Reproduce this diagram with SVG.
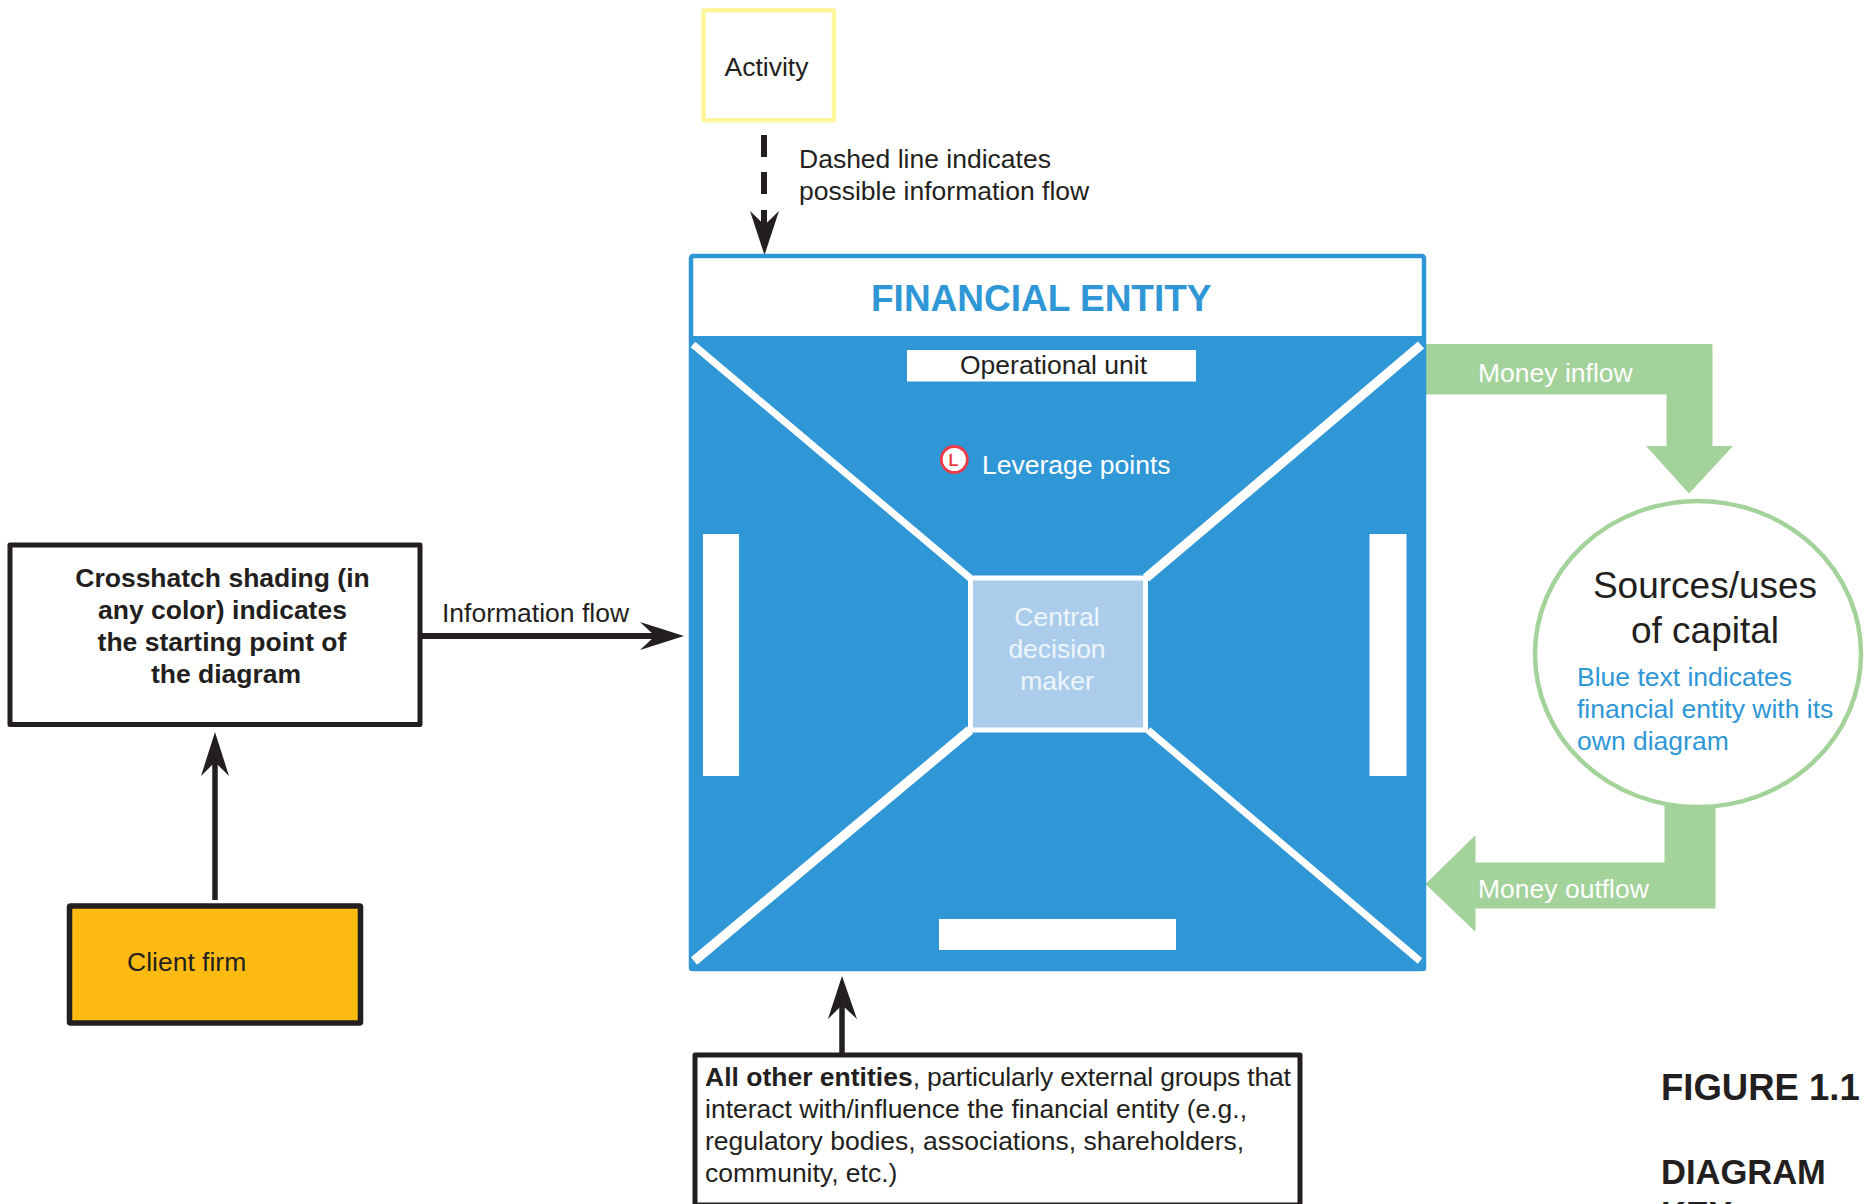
<svg xmlns="http://www.w3.org/2000/svg" width="1869" height="1204" viewBox="0 0 1869 1204">
<style>
text{font-family:"Liberation Sans",Arial,sans-serif;font-size:26.5px;fill:#231F20}
.b{font-weight:700}
.w{fill:#fff}
.pale{fill:#EEF5FB}
.blue{fill:#3097D6}
.box{fill:#fff;stroke:#231F20;stroke-width:5;stroke-linejoin:round}
.ln{stroke:#231F20;fill:none}
.ar{fill:#231F20}
.dg{stroke:#fff;fill:none}
.gr{fill:#A3D29B;stroke:#A3D29B;stroke-width:1;stroke-linejoin:round}
</style>
<rect width="1869" height="1204" fill="#fff"/>
<g id="connectors">
<path class="ln" stroke-width="6" d="M764 135V157M764 172V194M764 210V232"/>
<path class="ar" d="M764.5 255L750 211L764.5 225L779 211Z"/>
<path class="ln" stroke-width="6" d="M422 636H660"/>
<path class="ar" d="M684 636L640 622L655 636L640 650Z"/>
<path class="ln" stroke-width="5.500" d="M215 900V755"/>
<path class="ar" d="M215 732L201 776L215 762L229 776Z"/>
<path class="ln" stroke-width="5.500" d="M842 1053V1000"/>
<path class="ar" d="M842 976L828 1019L842 1005L857 1019Z"/>
<polygon id="money-inflow-arrow" class="gr" points="1426,344.500 1712,344.500 1712,446.500 1732,446.500 1689,493 1647,446.500 1667,446.500 1667,394 1426,394"/>
<polygon id="money-outflow-arrow" class="gr" points="1665,800 1715,800 1715,908 1475,908 1475,931 1426,884 1475,836 1475,863 1665,863"/>
</g>
<g id="activity">
<rect x="703.500" y="10.300" width="130.500" height="110" rx="1.500" fill="#fff" stroke="#FFF69B" stroke-width="4.500"/>
<text x="724.500" y="76">Activity</text>
</g>
<text x="799" y="168">Dashed line indicates</text>
<text x="799" y="200">possible information flow</text>
<g id="financial-entity">
<rect x="691" y="256" width="733" height="713" rx="2" fill="#fff" stroke="#3097D6" stroke-width="4.500"/>
<rect x="689" y="336" width="737" height="635" rx="2" fill="#3097D6"/>
<text class="b blue" x="871" y="311" style="font-size:37px">FINANCIAL ENTITY</text>
<path class="dg" stroke-width="7" d="M693 344.500L970 578M1148 730L1420 961"/>
<path class="dg" stroke-width="9.500" d="M1421 345L1146 578M970 730L694 961"/>
<rect x="907" y="350" width="289" height="31.500" fill="#fff"/>
<text x="960" y="374">Operational unit</text>
<rect x="703" y="534" width="36" height="242" fill="#fff"/>
<rect x="1369.500" y="534" width="37" height="242" fill="#fff"/>
<rect x="939" y="919" width="237" height="31" fill="#fff"/>
<g id="leverage">
<circle cx="954.300" cy="459.500" r="13" fill="#fff" stroke="#EE3B46" stroke-width="2.800"/>
<text x="948.500" y="466" class="b" style="font-size:16px;fill:#EE3B46">L</text>
</g>
<text class="w" x="982" y="474">Leverage points</text>
</g>
<g id="central-decision-maker">
<rect x="970.500" y="578" width="175" height="152" fill="#ABCDEB" stroke="#fff" stroke-width="5"/>
<text class="pale" x="1057" y="626" text-anchor="middle">Central</text>
<text class="pale" x="1057" y="658" text-anchor="middle">decision</text>
<text class="pale" x="1057" y="690" text-anchor="middle">maker</text>
</g>
<g id="sources-uses">
<ellipse cx="1698" cy="654" rx="163" ry="153" fill="#fff" stroke="#A3D29B" stroke-width="4.500"/>
<text x="1705" y="598" text-anchor="middle" style="font-size:37px">Sources/uses</text>
<text x="1705" y="643" text-anchor="middle" style="font-size:37px">of capital</text>
<text class="blue" x="1577" y="686">Blue text indicates</text>
<text class="blue" x="1577" y="718">financial entity with its</text>
<text class="blue" x="1577" y="750">own diagram</text>
</g>
<text class="w" x="1478" y="382">Money inflow</text>
<text class="w" x="1478" y="898">Money outflow</text>
<g id="crosshatch">
<rect class="box" x="10" y="545" width="410" height="179.500"/>
<text class="b" x="222.500" y="587" text-anchor="middle">Crosshatch shading (in</text>
<text class="b" x="222.500" y="619" text-anchor="middle">any color) indicates</text>
<text class="b" x="222" y="651" text-anchor="middle">the starting point of</text>
<text class="b" x="226" y="683" text-anchor="middle">the diagram</text>
</g>
<text x="442" y="622">Information flow</text>
<g id="client-firm">
<rect x="69.500" y="906" width="291" height="117" rx="1" fill="#FDBB11" stroke="#231F20" stroke-width="5.500"/>
<text x="127" y="971">Client firm</text>
</g>
<g id="all-other-entities">
<rect class="box" x="695" y="1055" width="605" height="150"/>
<text x="705" y="1086"><tspan class="b">All other entities</tspan><tspan letter-spacing="-0.180">, particularly external groups that</tspan></text>
<text x="705" y="1118">interact with/influence the financial entity (e.g.,</text>
<text x="705" y="1150">regulatory bodies, associations, shareholders,</text>
<text x="705" y="1182">community, etc.)</text>
</g>
<g id="caption">
<text class="b" x="1661" y="1100" style="font-size:36.500px">FIGURE 1.1</text>
<text class="b" x="1661" y="1184" style="font-size:34.500px">DIAGRAM</text>
<text class="b" x="1661" y="1226" style="font-size:34.500px">KEY</text>
</g>
</svg>
